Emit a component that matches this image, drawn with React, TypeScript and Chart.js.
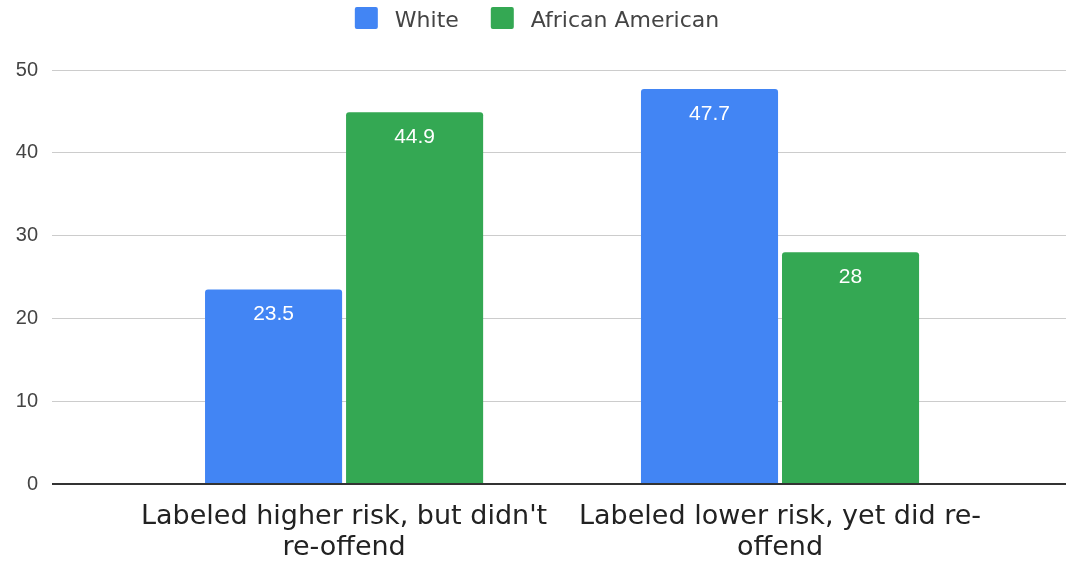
import React, { useEffect, useRef } from "react";
import { Chart, registerables } from "chart.js";

Chart.register(...registerables);

const categories: string[][] = [
  ["Labeled higher risk, but didn't", "re-offend"],
  ["Labeled lower risk, yet did re-", "offend"],
];
const seriesNames = ["White", "African American"];
const whiteValues = [23.5, 47.7];
const africanAmericanValues = [44.9, 28];
const yTickValues = [0, 10, 20, 30, 40, 50];

const BLUE = "#4285F4";
const GREEN = "#34A853";

const dataLabelPlugin = {
  id: "dataLabels",
  afterDatasetsDraw(chart: any) {
    const ctx = chart.ctx;
    ctx.save();
    ctx.fillStyle = "#ffffff";
    ctx.font = "21px 'Liberation Sans', Arial, sans-serif";
    ctx.textAlign = "center";
    ctx.textBaseline = "middle";
    chart.data.datasets.forEach((ds: any, di: number) => {
      const meta = chart.getDatasetMeta(di);
      meta.data.forEach((el: any, i: number) => {
        const v = ds.data[i].y;
        ctx.fillText(String(v), el.x, el.y + 25);
      });
    });
    ctx.restore();
  },
};

const legendPlugin = {
  id: "customLegend",
  afterDraw(chart: any) {
    const ctx = chart.ctx;
    ctx.save();
    ctx.font = "22px 'DejaVu Sans', sans-serif";
    const boxW = 23;
    const boxH = 22;
    const textGap = 17;
    const itemGap = 32;
    const items = chart.data.datasets.map((ds: any) => ({
      label: ds.label,
      color: ds.backgroundColor,
      w: ctx.measureText(ds.label).width,
    }));
    const total =
      items.reduce((s: number, it: any) => s + boxW + textGap + it.w, 0) + itemGap * (items.length - 1);
    let x = 537 - total / 2;
    ctx.textBaseline = "alphabetic";
    ctx.textAlign = "left";
    items.forEach((it: any) => {
      ctx.fillStyle = it.color;
      ctx.beginPath();
      (ctx as any).roundRect(x, 7, boxW, boxH, 2);
      ctx.fill();
      x += boxW + textGap;
      ctx.fillStyle = "#444444";
      ctx.fillText(it.label, x, 27);
      x += it.w + itemGap;
    });
    ctx.restore();
  },
};

export default function App() {
  const ref = useRef<HTMLCanvasElement>(null);
  useEffect(() => {
    document.body.style.margin = "0";
    const chart = new Chart(ref.current!, {
      type: "bar",
      data: {
        datasets: [
          {
            label: seriesNames[0],
            data: whiteValues.map((v, i) => ({ x: i, y: v })),
            backgroundColor: BLUE,
            borderRadius: 3,
            borderSkipped: "start",
          },
          {
            label: seriesNames[1],
            data: africanAmericanValues.map((v, i) => ({ x: i, y: v })),
            backgroundColor: GREEN,
            borderRadius: 3,
            borderSkipped: "start",
          },
        ],
      },
      options: {
        animation: false,
        responsive: false,
        categoryPercentage: 0.647,
        barPercentage: 0.972,
        layout: { padding: { top: 70, right: 0, left: 0, bottom: 0 } },
        plugins: {
          tooltip: { enabled: false },
          legend: { display: false },
        },
        scales: {
          x: {
            type: "linear",
            min: -0.67,
            max: 1.656,
            offset: false,
            grid: { display: false, offset: false },
            border: { display: false },
            afterBuildTicks: (scale: any) => {
              scale.ticks = categories.map((_, i) => ({ value: i }));
            },
            afterFit: (scale: any) => {
              scale.height = 81;
            },
            ticks: {
              autoSkip: false,
              maxRotation: 0,
              padding: 9,
              color: "#222222",
              font: { family: "'DejaVu Sans', sans-serif", size: 27, lineHeight: 1.15 },
              callback: (value: any) => categories[value] ?? "",
            },
          },
          y: {
            min: 0,
            max: 50,
            afterBuildTicks: (scale: any) => {
              scale.ticks = yTickValues.map((v) => ({ value: v }));
            },
            afterFit: (scale: any) => {
              scale.width = 52;
            },
            border: { display: false },
            grid: {
              drawTicks: false,
              color: (c: any) => (c.tick && c.tick.value === 0 ? "#333333" : "#cccccc"),
              lineWidth: (c: any) => (c.tick && c.tick.value === 0 ? 2 : 1),
            },
            ticks: {
              padding: 14,
              color: "#444444",
              font: { family: "'Liberation Sans', Arial, sans-serif", size: 20 },
            },
          },
        },
      } as any,
      plugins: [dataLabelPlugin, legendPlugin],
    });
    return () => chart.destroy();
  }, []);
  return <canvas ref={ref} width={1066} height={565} />;
}
